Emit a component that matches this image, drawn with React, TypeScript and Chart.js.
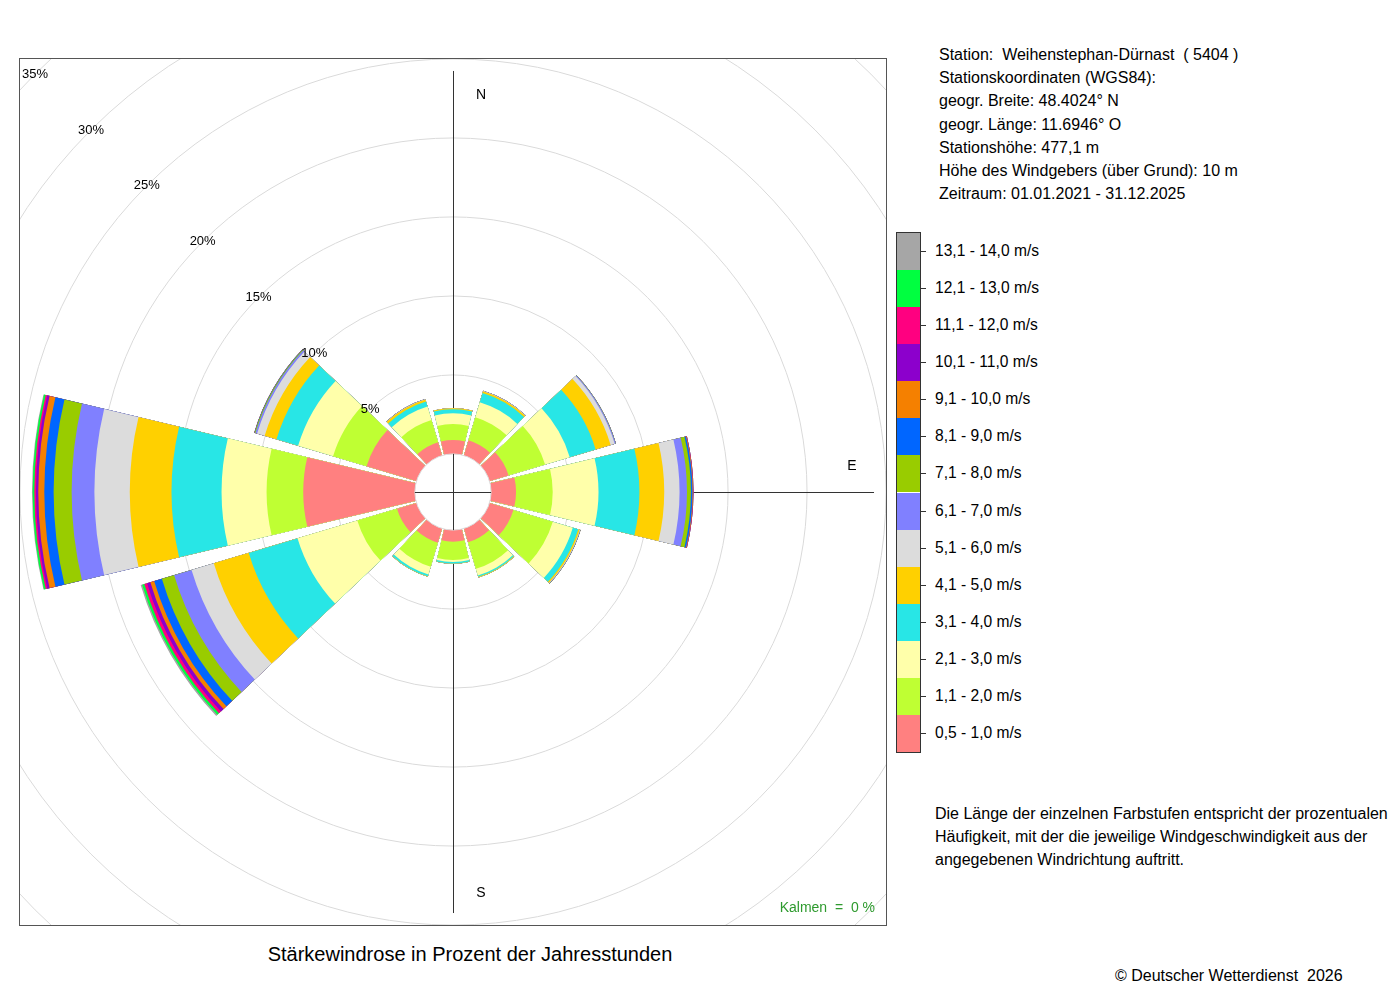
import React, { useEffect, useRef } from "react";
import { Chart, registerables } from "chart.js";

Chart.register(...registerables);

// ---------- data ----------
const directionDegrees = [0, 30, 60, 90, 120, 150, 180, 210, 240, 270, 300, 330];

const speedClasses = [
  "0,5 - 1,0 m/s",
  "1,1 - 2,0 m/s",
  "2,1 - 3,0 m/s",
  "3,1 - 4,0 m/s",
  "4,1 - 5,0 m/s",
  "5,1 - 6,0 m/s",
  "6,1 - 7,0 m/s",
  "7,1 - 8,0 m/s",
  "8,1 - 9,0 m/s",
  "9,1 - 10,0 m/s",
  "10,1 - 11,0 m/s",
  "11,1 - 12,0 m/s",
  "12,1 - 13,0 m/s",
  "13,1 - 14,0 m/s",
];

const classColors = [
  "#ff8080",
  "#bfff33",
  "#ffffaa",
  "#28e6e6",
  "#ffd000",
  "#dcdcdc",
  "#8080ff",
  "#99cc00",
  "#0066ff",
  "#f58000",
  "#8c00cc",
  "#ff0080",
  "#00ff40",
  "#a6a6a6",
];

// percent of yearly hours, per direction (0°, 30°, ..., 330°)
const speed05to10 = [0.88, 1.0, 1.26, 1.58, 1.58, 0.91, 0.73, 0.94, 1.29, 7.07, 3.3, 0.88];
const speed11to20 = [1.01, 1.53, 2.41, 2.32, 2.6, 1.75, 1.16, 1.59, 2.62, 2.32, 2.21, 1.47];
const speed21to30 = [0.68, 0.99, 1.63, 2.9, 1.32, 0.44, 0.13, 0.51, 3.95, 2.85, 2.31, 0.88];
const speed31to40 = [0.26, 0.61, 1.71, 2.59, 0.36, 0.09, 0.09, 0.12, 3.22, 3.17, 1.43, 0.33];
const speed41to50 = [0.06, 0.11, 0.99, 1.57, 0.09, 0.04, 0.01, 0.02, 2.31, 2.64, 0.78, 0.14];
const speed51to60 = [0, 0.02, 0.27, 0.97, 0.03, 0, 0, 0, 1.47, 2.24, 0.5, 0.01];
const speed61to70 = [0, 0.01, 0.06, 0.47, 0.02, 0, 0, 0, 1.15, 1.44, 0.11, 0.02];
const speed71to80 = [0, 0, 0.01, 0.25, 0.01, 0, 0, 0, 0.81, 1.14, 0.05, 0];
const speed81to90 = [0, 0, 0.01, 0.1, 0, 0, 0, 0, 0.51, 0.59, 0.02, 0];
const speed91to100 = [0, 0, 0, 0.04, 0, 0, 0, 0, 0.25, 0.38, 0.01, 0];
const speed101to110 = [0, 0, 0, 0.02, 0, 0, 0, 0, 0.22, 0.15, 0, 0];
const speed111to120 = [0, 0, 0, 0, 0, 0, 0, 0, 0.18, 0.1, 0, 0];
const speed121to130 = [0, 0, 0, 0, 0, 0, 0, 0, 0.14, 0.11, 0, 0];
const speed131to140 = [0, 0, 0, 0, 0, 0, 0, 0, 0.1, 0.04, 0, 0];

const speedSeries = [
  speed05to10, speed11to20, speed21to30, speed31to40, speed41to50, speed51to60, speed61to70,
  speed71to80, speed81to90, speed91to100, speed101to110, speed111to120, speed121to130, speed131to140,
];

const ringValues = [0, 5, 10, 15, 20, 25, 30, 35];
const compassMarks = [
  { label: "N", deg: 0 },
  { label: "E", deg: 90 },
  { label: "S", deg: 180 },
];

const stationLines = [
  "Station:  Weihenstephan-Dürnast  ( 5404 )",
  "Stationskoordinaten (WGS84):",
  "geogr. Breite: 48.4024° N",
  "geogr. Länge: 11.6946° O",
  "Stationshöhe: 477,1 m",
  "Höhe des Windgebers (über Grund): 10 m",
  "Zeitraum: 01.01.2021 - 31.12.2025",
];

const descriptionLines = [
  "Die Länge der einzelnen Farbstufen entspricht der prozentualen",
  "Häufigkeit, mit der die jeweilige Windgeschwindigkeit aus der",
  "angegebenen Windrichtung auftritt.",
];

const calmText = "Kalmen  =  0 %";
const titleText = "Stärkewindrose in Prozent der Jahresstunden";
const copyrightText = "© Deutscher Wetterdienst  2026";

// ---------- layout / style ----------
const SECTOR_DEG = 26.8;
const GAP_DEG = 3.2;
const R_MIN = -2.412;
const R_MAX = 35;
const CANVAS = 1182;
const FONT = '"Liberation Sans", Arial, Helvetica, sans-serif';

export default function App() {
  const canvasRef = useRef<HTMLCanvasElement | null>(null);

  useEffect(() => {
    const canvas = canvasRef.current;
    if (!canvas) return;

    const labels: string[] = [];
    directionDegrees.forEach((d) => {
      labels.push(d + "°");
      labels.push("");
    });

    const totals = directionDegrees.map((_, d) => speedSeries.reduce((a, s) => a + s[d], 0));
    const maxTotal = Math.max(...totals);

    const datasets = speedSeries.map((_, k) => {
      const data: number[] = [];
      directionDegrees.forEach((_, d) => {
        let cum = 0;
        for (let j = 0; j <= k; j++) cum += speedSeries[j][d];
        data.push(cum);
        data.push(0);
      });
      return {
        label: speedClasses[k],
        data,
        backgroundColor: data.map((_, i) => (i % 2 === 0 ? classColors[k] : "rgba(0,0,0,0)")),
        angle: data.map((_, i) => (i % 2 === 0 ? SECTOR_DEG : GAP_DEG)),
        borderWidth: 0,
      };
    });

    const decor = {
      id: "windroseDecor",
      beforeDatasetsDraw(chart: any) {
        const scale = chart.scales.r;
        const ctx = chart.ctx as CanvasRenderingContext2D;
        const cx = scale.xCenter;
        const cy = scale.yCenter;
        const L = scale.getDistanceFromCenterForValue(maxTotal);
        ctx.save();
        ctx.strokeStyle = "#333333";
        ctx.lineWidth = 1;
        ctx.beginPath();
        ctx.moveTo(cx + 0.5, cy - L);
        ctx.lineTo(cx + 0.5, cy + L);
        ctx.moveTo(cx - L, cy + 0.5);
        ctx.lineTo(cx + L, cy + 0.5);
        ctx.stroke();
        ctx.restore();
      },
      afterDatasetsDraw(chart: any) {
        const scale = chart.scales.r;
        const ctx = chart.ctx as CanvasRenderingContext2D;
        const cx = scale.xCenter;
        const cy = scale.yCenter;
        const r0 = scale.getDistanceFromCenterForValue(0);
        const L = scale.getDistanceFromCenterForValue(maxTotal);
        ctx.save();
        // centre hole
        ctx.fillStyle = "#ffffff";
        ctx.beginPath();
        ctx.arc(cx, cy, r0, 0, Math.PI * 2);
        ctx.fill();
        ctx.strokeStyle = "#dddddd";
        ctx.lineWidth = 1;
        ctx.stroke();
        ctx.strokeStyle = "#333333";
        ctx.beginPath();
        ctx.moveTo(cx + 0.5, cy - r0);
        ctx.lineTo(cx + 0.5, cy + r0);
        ctx.moveTo(cx - r0, cy + 0.5);
        ctx.lineTo(cx + r0, cy + 0.5);
        ctx.stroke();
        // ring labels along the upper-left diagonal
        ctx.fillStyle = "#000000";
        ctx.font = "13px " + FONT;
        ctx.textAlign = "center";
        ctx.textBaseline = "middle";
        ringValues.slice(1).forEach((v) => {
          const r = scale.getDistanceFromCenterForValue(v);
          ctx.fillText(v + "%", cx - r * Math.SQRT1_2, cy - r * Math.SQRT1_2);
        });
        // compass labels
        ctx.font = "14px " + FONT;
        const rl = L - 22;
        compassMarks.forEach((m) => {
          const a = (m.deg * Math.PI) / 180;
          const px = cx + rl * Math.sin(a) + 28 * Math.abs(Math.cos(a));
          const py = cy - rl * Math.cos(a) - 28 * Math.abs(Math.sin(a)) + 2;
          ctx.fillText(m.label, px, py);
        });
        ctx.restore();
      },
    };

    const chart = new Chart(canvas, {
      type: "polarArea",
      data: { labels, datasets: datasets as any },
      options: {
        responsive: false,
        maintainAspectRatio: false,
        animation: false,
        events: [],
        layout: { padding: 0 },
        plugins: {
          legend: { display: false },
          tooltip: { enabled: false },
        },
        scales: {
          r: {
            type: "radialLinear",
            min: R_MIN,
            max: R_MAX,
            startAngle: -SECTOR_DEG / 2,
            ticks: { display: false, stepSize: 5 },
            grid: { display: true, circular: true, color: "#dadada", lineWidth: 1 },
            angleLines: { display: false },
            pointLabels: { display: false },
            afterBuildTicks: (scale: any) => {
              scale.ticks = ringValues.map((v) => ({ value: v }));
            },
          } as any,
        },
      },
      plugins: [decor],
    });

    return () => chart.destroy();
  }, []);

  const legendTop = 232;
  const legendHeight = 520;
  const cell = legendHeight / speedClasses.length;
  const legendOrder = speedClasses.map((_, i) => speedClasses.length - 1 - i);

  return (
    <div
      style={{
        position: "absolute",
        left: 0,
        top: 0,
        width: 1400,
        height: 1000,
        background: "#ffffff",
        fontFamily: FONT,
        color: "#000",
        overflow: "hidden",
      }}
    >
      {/* plot frame */}
      <div
        style={{
          position: "absolute",
          left: 19,
          top: 58,
          width: 868,
          height: 868,
          boxSizing: "border-box",
          border: "1px solid #555555",
          overflow: "hidden",
        }}
      >
        <canvas
          ref={canvasRef}
          width={CANVAS}
          height={CANVAS}
          style={{ position: "absolute", left: -158, top: -158, width: CANVAS, height: CANVAS }}
        />
        <div
          style={{
            position: "absolute",
            right: 11,
            top: 839,
            fontSize: 14,
            lineHeight: "18px",
            color: "#2e9a2e",
            whiteSpace: "pre",
          }}
        >
          {calmText}
        </div>
      </div>

      {/* title */}
      <div
        style={{
          position: "absolute",
          left: 0,
          width: 940,
          top: 942,
          textAlign: "center",
          fontSize: 20,
          lineHeight: "24px",
        }}
      >
        {titleText}
      </div>

      {/* station info */}
      <div style={{ position: "absolute", left: 939, top: 43, fontSize: 16, lineHeight: "23.17px" }}>
        {stationLines.map((t, i) => (
          <div key={i} style={{ whiteSpace: "pre" }}>
            {t}
          </div>
        ))}
      </div>

      {/* legend colour bar */}
      <div
        style={{
          position: "absolute",
          left: 896,
          top: legendTop,
          width: 25,
          height: legendHeight + 1,
          boxSizing: "border-box",
          border: "1px solid #333333",
        }}
      >
        {legendOrder.map((k, i) => (
          <div
            key={k}
            style={{
              position: "absolute",
              left: 0,
              right: 0,
              top: i * cell - 0.5,
              height: cell,
              background: classColors[k],
            }}
          />
        ))}
      </div>
      {legendOrder.map((k, i) => (
        <React.Fragment key={"l" + k}>
          <div
            style={{
              position: "absolute",
              left: 921,
              top: legendTop + (i + 0.5) * cell,
              width: 5,
              height: 1,
              background: "#333333",
            }}
          />
          <div
            style={{
              position: "absolute",
              left: 935,
              top: legendTop + (i + 0.5) * cell - 10,
              fontSize: 15.6,
              lineHeight: "20px",
              whiteSpace: "pre",
            }}
          >
            {speedClasses[k]}
          </div>
        </React.Fragment>
      ))}

      {/* description */}
      <div style={{ position: "absolute", left: 935, top: 802, fontSize: 16, lineHeight: "23px" }}>
        {descriptionLines.map((t, i) => (
          <div key={i} style={{ whiteSpace: "pre" }}>
            {t}
          </div>
        ))}
      </div>

      {/* copyright */}
      <div
        style={{ position: "absolute", left: 1115, top: 966, fontSize: 16, lineHeight: "20px", whiteSpace: "pre" }}
      >
        {copyrightText}
      </div>
    </div>
  );
}
